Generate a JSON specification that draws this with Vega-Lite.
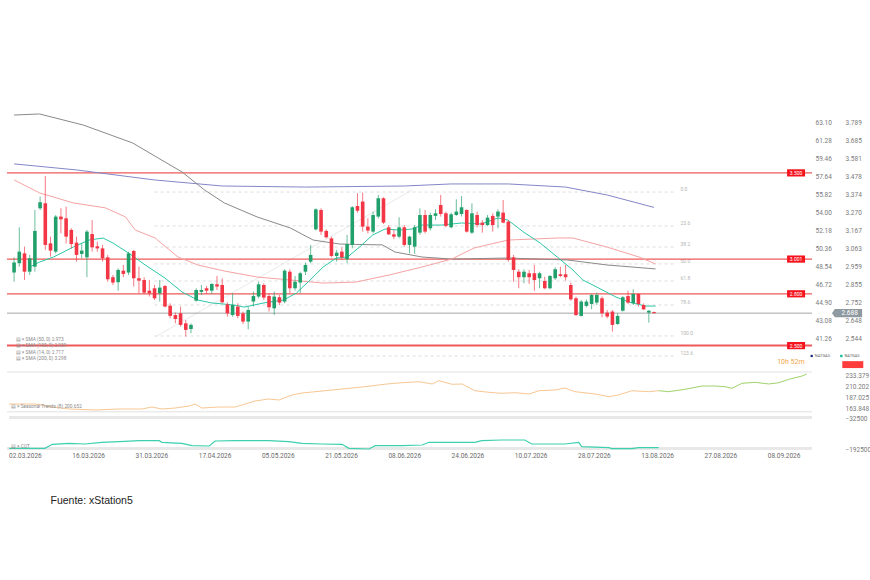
{
  "$schema": "https://vega.github.io/schema/vega-lite/v6.json",
  "background": "white",
  "padding": {"left": 5, "top": 105, "right": 0, "bottom": 0},
  "title": {"text": "Fuente: xStation5", "orient": "bottom", "anchor": "start", "offset": 37, "dx": 45, "fontSize": 10.5, "fontWeight": "normal", "font": "Liberation Sans", "color": "#222222"},
  "datasets": {
    "candles": [
      {"t":0,"o":2.923,"h":3.011,"l":2.870,"c":2.981},
      {"t":1,"o":2.977,"h":3.185,"l":2.957,"c":3.044},
      {"t":2,"o":3.034,"h":3.073,"l":2.880,"c":2.928},
      {"t":3,"o":2.928,"h":3.025,"l":2.909,"c":3.006},
      {"t":4,"o":2.957,"h":3.285,"l":2.928,"c":3.164},
      {"t":5,"o":3.295,"h":3.363,"l":3.285,"c":3.330},
      {"t":6,"o":3.324,"h":3.482,"l":3.054,"c":3.083},
      {"t":7,"o":3.092,"h":3.131,"l":3.015,"c":3.050},
      {"t":8,"o":3.044,"h":3.256,"l":3.034,"c":3.247},
      {"t":9,"o":3.247,"h":3.295,"l":3.150,"c":3.231},
      {"t":10,"o":3.237,"h":3.305,"l":3.092,"c":3.131},
      {"t":11,"o":3.170,"h":3.179,"l":3.063,"c":3.088},
      {"t":12,"o":3.096,"h":3.131,"l":2.986,"c":3.025},
      {"t":13,"o":3.031,"h":3.092,"l":3.006,"c":3.050},
      {"t":14,"o":3.011,"h":3.170,"l":2.896,"c":3.160},
      {"t":15,"o":3.146,"h":3.227,"l":3.044,"c":3.069},
      {"t":16,"o":3.075,"h":3.102,"l":3.044,"c":3.063},
      {"t":17,"o":3.063,"h":3.083,"l":2.986,"c":3.006},
      {"t":18,"o":3.011,"h":3.025,"l":2.870,"c":2.884},
      {"t":19,"o":2.896,"h":2.909,"l":2.851,"c":2.865},
      {"t":20,"o":2.867,"h":2.948,"l":2.818,"c":2.938},
      {"t":21,"o":2.934,"h":2.967,"l":2.896,"c":2.915},
      {"t":22,"o":2.923,"h":3.044,"l":2.909,"c":3.034},
      {"t":23,"o":3.048,"h":3.054,"l":2.842,"c":2.890},
      {"t":24,"o":2.890,"h":2.957,"l":2.803,"c":2.876},
      {"t":25,"o":2.880,"h":2.896,"l":2.799,"c":2.807},
      {"t":26,"o":2.818,"h":2.880,"l":2.784,"c":2.803},
      {"t":27,"o":2.832,"h":2.851,"l":2.764,"c":2.774},
      {"t":28,"o":2.803,"h":2.880,"l":2.755,"c":2.836},
      {"t":29,"o":2.845,"h":2.851,"l":2.722,"c":2.726},
      {"t":30,"o":2.731,"h":2.745,"l":2.658,"c":2.672},
      {"t":31,"o":2.677,"h":2.691,"l":2.629,"c":2.654},
      {"t":32,"o":2.687,"h":2.726,"l":2.610,"c":2.620},
      {"t":33,"o":2.629,"h":2.648,"l":2.552,"c":2.591},
      {"t":34,"o":2.596,"h":2.629,"l":2.571,"c":2.620},
      {"t":35,"o":2.760,"h":2.832,"l":2.755,"c":2.822},
      {"t":36,"o":2.811,"h":2.851,"l":2.793,"c":2.822},
      {"t":37,"o":2.832,"h":2.845,"l":2.799,"c":2.818},
      {"t":38,"o":2.818,"h":2.861,"l":2.799,"c":2.857},
      {"t":39,"o":2.855,"h":2.903,"l":2.822,"c":2.842},
      {"t":40,"o":2.851,"h":2.890,"l":2.745,"c":2.751},
      {"t":41,"o":2.739,"h":2.751,"l":2.668,"c":2.687},
      {"t":42,"o":2.677,"h":2.803,"l":2.668,"c":2.735},
      {"t":43,"o":2.726,"h":2.745,"l":2.658,"c":2.672},
      {"t":44,"o":2.687,"h":2.697,"l":2.625,"c":2.639},
      {"t":45,"o":2.639,"h":2.726,"l":2.594,"c":2.706},
      {"t":46,"o":2.755,"h":2.813,"l":2.726,"c":2.787},
      {"t":47,"o":2.784,"h":2.870,"l":2.774,"c":2.855},
      {"t":48,"o":2.851,"h":2.861,"l":2.764,"c":2.778},
      {"t":49,"o":2.787,"h":2.803,"l":2.697,"c":2.722},
      {"t":50,"o":2.716,"h":2.813,"l":2.677,"c":2.784},
      {"t":51,"o":2.780,"h":2.793,"l":2.735,"c":2.749},
      {"t":52,"o":2.755,"h":2.942,"l":2.745,"c":2.934},
      {"t":53,"o":2.928,"h":2.942,"l":2.803,"c":2.832},
      {"t":54,"o":2.832,"h":2.903,"l":2.818,"c":2.870},
      {"t":55,"o":2.865,"h":2.928,"l":2.803,"c":2.919},
      {"t":56,"o":2.928,"h":2.981,"l":2.909,"c":2.967},
      {"t":57,"o":2.986,"h":3.083,"l":2.977,"c":3.025},
      {"t":58,"o":3.173,"h":3.295,"l":3.166,"c":3.289},
      {"t":59,"o":3.285,"h":3.295,"l":3.141,"c":3.160},
      {"t":60,"o":3.164,"h":3.173,"l":3.121,"c":3.127},
      {"t":61,"o":3.121,"h":3.131,"l":3.011,"c":3.019},
      {"t":62,"o":3.019,"h":3.054,"l":2.986,"c":3.038},
      {"t":63,"o":3.044,"h":3.069,"l":2.996,"c":3.011},
      {"t":64,"o":3.000,"h":3.141,"l":2.977,"c":3.088},
      {"t":65,"o":3.083,"h":3.308,"l":3.063,"c":3.301},
      {"t":66,"o":3.308,"h":3.382,"l":3.270,"c":3.281},
      {"t":67,"o":3.334,"h":3.386,"l":3.160,"c":3.189},
      {"t":68,"o":3.189,"h":3.237,"l":3.150,"c":3.166},
      {"t":69,"o":3.160,"h":3.276,"l":3.150,"c":3.256},
      {"t":70,"o":3.247,"h":3.372,"l":3.237,"c":3.353},
      {"t":71,"o":3.353,"h":3.359,"l":3.204,"c":3.212},
      {"t":72,"o":3.185,"h":3.198,"l":3.141,"c":3.144},
      {"t":73,"o":3.144,"h":3.170,"l":3.116,"c":3.131},
      {"t":74,"o":3.131,"h":3.243,"l":3.121,"c":3.185},
      {"t":75,"o":3.185,"h":3.198,"l":3.073,"c":3.083},
      {"t":76,"o":3.083,"h":3.135,"l":3.034,"c":3.131},
      {"t":77,"o":3.073,"h":3.198,"l":3.031,"c":3.185},
      {"t":78,"o":3.154,"h":3.295,"l":3.141,"c":3.256},
      {"t":79,"o":3.256,"h":3.285,"l":3.150,"c":3.160},
      {"t":80,"o":3.179,"h":3.270,"l":3.166,"c":3.256},
      {"t":81,"o":3.251,"h":3.289,"l":3.227,"c":3.266},
      {"t":82,"o":3.314,"h":3.372,"l":3.247,"c":3.262},
      {"t":83,"o":3.266,"h":3.276,"l":3.185,"c":3.193},
      {"t":84,"o":3.185,"h":3.270,"l":3.179,"c":3.260},
      {"t":85,"o":3.256,"h":3.347,"l":3.251,"c":3.276},
      {"t":86,"o":3.262,"h":3.366,"l":3.247,"c":3.301},
      {"t":87,"o":3.285,"h":3.289,"l":3.154,"c":3.160},
      {"t":88,"o":3.154,"h":3.324,"l":3.146,"c":3.266},
      {"t":89,"o":3.256,"h":3.276,"l":3.185,"c":3.198},
      {"t":90,"o":3.212,"h":3.227,"l":3.154,"c":3.198},
      {"t":91,"o":3.198,"h":3.256,"l":3.193,"c":3.241},
      {"t":92,"o":3.251,"h":3.266,"l":3.160,"c":3.198},
      {"t":93,"o":3.247,"h":3.289,"l":3.179,"c":3.276},
      {"t":94,"o":3.270,"h":3.343,"l":3.208,"c":3.212},
      {"t":95,"o":3.218,"h":3.227,"l":2.986,"c":2.996},
      {"t":96,"o":3.011,"h":3.025,"l":2.870,"c":2.938},
      {"t":97,"o":2.928,"h":2.942,"l":2.832,"c":2.896},
      {"t":98,"o":2.896,"h":2.942,"l":2.861,"c":2.928},
      {"t":99,"o":2.919,"h":2.938,"l":2.857,"c":2.896},
      {"t":100,"o":2.919,"h":2.967,"l":2.818,"c":2.880},
      {"t":101,"o":2.890,"h":2.928,"l":2.832,"c":2.919},
      {"t":102,"o":2.874,"h":2.899,"l":2.826,"c":2.832},
      {"t":103,"o":2.832,"h":2.909,"l":2.826,"c":2.903},
      {"t":104,"o":2.890,"h":2.953,"l":2.880,"c":2.942},
      {"t":105,"o":2.913,"h":2.957,"l":2.896,"c":2.903},
      {"t":106,"o":2.913,"h":2.967,"l":2.876,"c":2.896},
      {"t":107,"o":2.851,"h":2.865,"l":2.760,"c":2.768},
      {"t":108,"o":2.774,"h":2.784,"l":2.672,"c":2.677},
      {"t":109,"o":2.672,"h":2.764,"l":2.668,"c":2.755},
      {"t":110,"o":2.730,"h":2.768,"l":2.722,"c":2.755},
      {"t":111,"o":2.741,"h":2.799,"l":2.710,"c":2.793},
      {"t":112,"o":2.749,"h":2.807,"l":2.735,"c":2.793},
      {"t":113,"o":2.774,"h":2.784,"l":2.664,"c":2.687},
      {"t":114,"o":2.691,"h":2.706,"l":2.658,"c":2.668},
      {"t":115,"o":2.697,"h":2.706,"l":2.581,"c":2.620},
      {"t":116,"o":2.625,"h":2.687,"l":2.620,"c":2.672},
      {"t":117,"o":2.702,"h":2.787,"l":2.697,"c":2.780},
      {"t":118,"o":2.787,"h":2.818,"l":2.741,"c":2.749},
      {"t":119,"o":2.745,"h":2.826,"l":2.735,"c":2.799},
      {"t":120,"o":2.799,"h":2.803,"l":2.726,"c":2.741},
      {"t":121,"o":2.735,"h":2.745,"l":2.706,"c":2.710},
      {"t":122,"o":2.691,"h":2.706,"l":2.633,"c":2.702},
      {"t":123,"o":2.694,"h":2.697,"l":2.686,"c":2.688}
    ],
    "sma": [
      {"s":"s200","t":0,"v":3.552},{"s":"s200","t":12,"v":3.517},{"s":"s200","t":27,"v":3.459},{"s":"s200","t":40,"v":3.424},{"s":"s200","t":56,"v":3.418},{"s":"s200","t":75,"v":3.424},{"s":"s200","t":84,"v":3.436},{"s":"s200","t":95,"v":3.436},{"s":"s200","t":106,"v":3.418},{"s":"s200","t":114,"v":3.372},{"s":"s200","t":123,"v":3.300},
      {"s":"s100","t":0,"v":3.835},{"s":"s100","t":4.9,"v":3.841},{"s":"s100","t":13.3,"v":3.777},{"s":"s100","t":22.8,"v":3.673},{"s":"s100","t":27.7,"v":3.586},{"s":"s100","t":32.3,"v":3.505},{"s":"s100","t":36.6,"v":3.401},{"s":"s100","t":40.4,"v":3.326},{"s":"s100","t":46.7,"v":3.245},{"s":"s100","t":53.1,"v":3.181},{"s":"s100","t":57.5,"v":3.111},{"s":"s100","t":62.6,"v":3.088},{"s":"s100","t":70.8,"v":3.083},{"s":"s100","t":73.2,"v":3.042},{"s":"s100","t":78.4,"v":3.013},{"s":"s100","t":84.1,"v":3.001},{"s":"s100","t":94.9,"v":3.007},{"s":"s100","t":106.3,"v":2.996},{"s":"s100","t":113.9,"v":2.967},{"s":"s100","t":123.3,"v":2.944},
      {"s":"s50","t":0,"v":3.459},{"s":"s50","t":4.9,"v":3.384},{"s":"s50","t":11.4,"v":3.326},{"s":"s50","t":17.6,"v":3.297},{"s":"s50","t":21.4,"v":3.245},{"s":"s50","t":23.3,"v":3.169},{"s":"s50","t":27.1,"v":3.123},{"s":"s50","t":31.5,"v":3.013},{"s":"s50","t":35.3,"v":2.967},{"s":"s50","t":40.4,"v":2.932},{"s":"s50","t":46.7,"v":2.897},{"s":"s50","t":53.1,"v":2.880},{"s":"s50","t":59.4,"v":2.862},{"s":"s50","t":65.7,"v":2.868},{"s":"s50","t":72.1,"v":2.909},{"s":"s50","t":78.4,"v":2.955},{"s":"s50","t":84.1,"v":3.001},{"s":"s50","t":88.4,"v":3.065},{"s":"s50","t":94.9,"v":3.111},{"s":"s50","t":104.4,"v":3.123},{"s":"s50","t":107.4,"v":3.123},{"s":"s50","t":113.9,"v":3.071},{"s":"s50","t":120.1,"v":3.013},{"s":"s50","t":123.3,"v":2.973},
      {"s":"s14","t":3,"v":2.955},{"s":"s14","t":4.9,"v":2.984},{"s":"s14","t":7.6,"v":3.013},{"s":"s14","t":11.4,"v":3.071},{"s":"s14","t":14.4,"v":3.111},{"s":"s14","t":17.1,"v":3.123},{"s":"s14","t":19,"v":3.094},{"s":"s14","t":22,"v":3.036},{"s":"s14","t":25.2,"v":2.967},{"s":"s14","t":29,"v":2.891},{"s":"s14","t":32.3,"v":2.810},{"s":"s14","t":35.3,"v":2.764},{"s":"s14","t":38,"v":2.747},{"s":"s14","t":42.3,"v":2.735},{"s":"s14","t":44.2,"v":2.723},{"s":"s14","t":48,"v":2.747},{"s":"s14","t":51.8,"v":2.764},{"s":"s14","t":54.3,"v":2.805},{"s":"s14","t":56.9,"v":2.880},{"s":"s14","t":59.4,"v":2.955},{"s":"s14","t":61.9,"v":3.007},{"s":"s14","t":64.1,"v":3.013},{"s":"s14","t":66.4,"v":3.071},{"s":"s14","t":68.9,"v":3.140},{"s":"s14","t":71.3,"v":3.175},{"s":"s14","t":74,"v":3.169},{"s":"s14","t":76.5,"v":3.175},{"s":"s14","t":78.4,"v":3.198},{"s":"s14","t":82.2,"v":3.198},{"s":"s14","t":86,"v":3.210},{"s":"s14","t":89.8,"v":3.204},{"s":"s14","t":93,"v":3.239},{"s":"s14","t":94.9,"v":3.227},{"s":"s14","t":97.9,"v":3.158},{"s":"s14","t":101.1,"v":3.094},{"s":"s14","t":104.4,"v":3.013},{"s":"s14","t":107.4,"v":2.938},{"s":"s14","t":109.3,"v":2.880},{"s":"s14","t":112,"v":2.839},{"s":"s14","t":115.7,"v":2.781},{"s":"s14","t":118.2,"v":2.752},{"s":"s14","t":121.4,"v":2.729},{"s":"s14","t":123.3,"v":2.729}
    ],
    "fib": [
      {"lvl":"0.0","p":3.389},{"lvl":"23.6","p":3.193},{"lvl":"38.2","p":3.071},{"lvl":"50.0","p":2.973},
      {"lvl":"61.8","p":2.874},{"lvl":"78.6","p":2.735},{"lvl":"100.0","p":2.556},{"lvl":"123.6","p":2.440}
    ],
    "trend": [{"t":27.1,"p":2.550},{"t":76.5,"p":3.401}],
    "levels": [{"p":3.5,"lab":"3.500"},{"p":3.001,"lab":"3.001"},{"p":2.8,"lab":"2.800"},{"p":2.5,"lab":"2.500"}],
    "seasonal": [
      {"seg":"hist","t":0,"v":172.5},{"seg":"hist","t":4.9,"v":172.5},{"seg":"hist","t":8.2,"v":166.0},{"seg":"hist","t":11.4,"v":161.7},{"seg":"hist","t":16.3,"v":159.5},{"seg":"hist","t":20.9,"v":161.7},{"seg":"hist","t":25.2,"v":161.7},{"seg":"hist","t":27.1,"v":166.0},{"seg":"hist","t":29,"v":161.7},{"seg":"hist","t":31.5,"v":163.8},{"seg":"hist","t":34.2,"v":168.2},{"seg":"hist","t":35.3,"v":172.5},{"seg":"hist","t":36.6,"v":163.8},{"seg":"hist","t":39.8,"v":166.0},{"seg":"hist","t":42.9,"v":166.0},{"seg":"hist","t":44.8,"v":172.5},{"seg":"hist","t":46.7,"v":179.1},{"seg":"hist","t":49.3,"v":183.4},{"seg":"hist","t":51.2,"v":181.2},{"seg":"hist","t":53.7,"v":192.1},{"seg":"hist","t":55.6,"v":196.4},{"seg":"hist","t":61.3,"v":202.9},{"seg":"hist","t":67,"v":209.5},{"seg":"hist","t":71.7,"v":216.0},{"seg":"hist","t":74.6,"v":218.8},{"seg":"hist","t":77.8,"v":221.0},{"seg":"hist","t":80.3,"v":216.0},{"seg":"hist","t":81.6,"v":223.1},{"seg":"hist","t":84.1,"v":215.3},{"seg":"hist","t":86,"v":216.0},{"seg":"hist","t":88.4,"v":201.4},{"seg":"hist","t":91.1,"v":197.9},{"seg":"hist","t":93.5,"v":195.8},{"seg":"hist","t":96,"v":197.1},{"seg":"hist","t":98.7,"v":194.3},{"seg":"hist","t":100.6,"v":201.4},{"seg":"hist","t":103.6,"v":202.9},{"seg":"hist","t":105.5,"v":207.3},{"seg":"hist","t":107.4,"v":199.3},{"seg":"hist","t":111.2,"v":194.3},{"seg":"hist","t":113.9,"v":188.4},{"seg":"hist","t":115.7,"v":192.1},{"seg":"hist","t":118.2,"v":201.4},{"seg":"hist","t":121.4,"v":199.3},{"seg":"hist","t":123.3,"v":201.4},
      {"seg":"fut","t":123.3,"v":201.4},{"seg":"fut","t":125.2,"v":199.3},{"seg":"fut","t":128.3,"v":204.5},{"seg":"fut","t":131.5,"v":211.6},{"seg":"fut","t":134,"v":211.6},{"seg":"fut","t":135.9,"v":210.1},{"seg":"fut","t":137.2,"v":206.6},{"seg":"fut","t":139.1,"v":217.5},{"seg":"fut","t":141.6,"v":219.7},{"seg":"fut","t":144.2,"v":216.0},{"seg":"fut","t":146.1,"v":218.8},{"seg":"fut","t":148,"v":226.2},{"seg":"fut","t":150.5,"v":233.3},{"seg":"fut","t":151.4,"v":237.7}
    ],
    "cot": [
      {"t":0,"v":-188900},{"t":6.8,"v":-188900},{"t":8.2,"v":-168200},{"t":11.4,"v":-163100},{"t":14.4,"v":-166700},{"t":17.6,"v":-157900},{"t":20.9,"v":-154800},{"t":24.7,"v":-149700},{"t":28.5,"v":-149700},{"t":29,"v":-157900},{"t":32.8,"v":-163100},{"t":34.7,"v":-175500},{"t":38,"v":-177000},{"t":39.1,"v":-151200},{"t":42.9,"v":-149700},{"t":49.3,"v":-149700},{"t":53.1,"v":-154800},{"t":55.6,"v":-163100},{"t":59.4,"v":-166700},{"t":63.2,"v":-168200},{"t":64.5,"v":-188900},{"t":68.3,"v":-192500},{"t":69.5,"v":-175500},{"t":74.6,"v":-175500},{"t":78.4,"v":-171800},{"t":79.7,"v":-157900},{"t":88.4,"v":-157900},{"t":89.7,"v":-149700},{"t":93.5,"v":-146000},{"t":97.9,"v":-146000},{"t":99.2,"v":-166700},{"t":105.5,"v":-166700},{"t":108.1,"v":-157900},{"t":108.7,"v":-180600},{"t":113.9,"v":-185800},{"t":114.4,"v":-190900},{"t":118.2,"v":-190900},{"t":119.5,"v":-185800},{"t":123.3,"v":-185800}
    ]
  },
  "spacing": 4,
  "bounds": "flush",
  "resolve": {"scale": {"x": "independent", "y": "independent", "color": "independent"}},
  "vconcat": [
    {
      "width": 805,
      "height": 261,
      "layer": [
        {
          "layer": [
            {
              "data": {"name": "fib"},
              "mark": {"type": "rule", "color": "#d4d4d4", "strokeDash": [3, 3], "strokeWidth": 0.8},
              "encoding": {
                "x": {"datum": 27, "type": "quantitative", "scale": {"domain": [-0.4, 152.4], "nice": false, "zero": false}, "axis": null},
                "x2": {"datum": 127},
                "y": {"field": "p", "type": "quantitative", "axis": null, "scale": {"domain": [2.382, 3.893], "nice": false, "zero": false}}
              }
            },
            {
              "data": {"name": "fib"},
              "mark": {"type": "text", "align": "left", "dx": 2, "dy": -3, "fontSize": 5, "color": "#b5b5b5"},
              "encoding": {
                "x": {"datum": 127.7, "type": "quantitative", "scale": {"domain": [-0.4, 152.4], "nice": false, "zero": false}, "axis": null},
                "y": {"field": "p", "type": "quantitative", "axis": null, "scale": {"domain": [2.382, 3.893], "nice": false, "zero": false}},
                "text": {"field": "lvl"}
              }
            },
            {
              "data": {"name": "trend"},
              "mark": {"type": "line", "color": "#e3e3e3", "strokeWidth": 0.8},
              "encoding": {
                "x": {"field": "t", "type": "quantitative", "scale": {"domain": [-0.4, 152.4], "nice": false, "zero": false}, "axis": null},
                "y": {"field": "p", "type": "quantitative", "axis": null, "scale": {"domain": [2.382, 3.893], "nice": false, "zero": false}}
              }
            },
            {
              "data": {"name": "levels"},
              "mark": {"type": "rule", "color": "#ee5a5a"},
              "encoding": {
                "y": {"field": "p", "type": "quantitative", "axis": null, "scale": {"domain": [2.382, 3.893], "nice": false, "zero": false}},
                "strokeWidth": {"condition": {"test": "datum.p == 2.5", "value": 2}, "value": 1.2}
              }
            },
            {
              "data": {"values": [{}]},
              "mark": {"type": "rule", "color": "#a6a6a6", "strokeWidth": 1},
              "encoding": {
                "y": {"datum": 2.688, "type": "quantitative", "axis": null, "scale": {"domain": [2.382, 3.893], "nice": false, "zero": false}}
              }
            },
            {
              "data": {"name": "sma"},
              "mark": {"type": "line", "strokeWidth": 1},
              "encoding": {
                "x": {"field": "t", "type": "quantitative", "scale": {"domain": [-0.4, 152.4], "nice": false, "zero": false}, "axis": null},
                "y": {"field": "v", "type": "quantitative", "axis": null, "scale": {"domain": [2.382, 3.893], "nice": false, "zero": false}},
                "color": {"field": "s", "type": "nominal", "legend": null, "scale": {"domain": ["s14", "s50", "s100", "s200"], "range": ["#2cc7a6", "#f5a3a3", "#8a8a8a", "#8487c8"]}}
              }
            },
            {
              "data": {"name": "candles"},
              "mark": {"type": "rule", "strokeWidth": 0.9, "opacity": 0.75},
              "encoding": {
                "x": {"field": "t", "type": "quantitative", "scale": {"domain": [-0.4, 152.4], "nice": false, "zero": false}, "axis": null},
                "y": {"field": "l", "type": "quantitative", "axis": null, "scale": {"domain": [2.382, 3.893], "nice": false, "zero": false}},
                "y2": {"field": "h"},
                "color": {"condition": {"test": "datum.c >= datum.o", "value": "#22a06b"}, "value": "#f23645"}
              }
            },
            {
              "data": {"name": "candles"},
              "mark": {"type": "bar", "width": 3.6},
              "encoding": {
                "x": {"field": "t", "type": "quantitative", "scale": {"domain": [-0.4, 152.4], "nice": false, "zero": false}, "axis": null},
                "y": {"field": "o", "type": "quantitative", "axis": null, "scale": {"domain": [2.382, 3.893], "nice": false, "zero": false}},
                "y2": {"field": "c"},
                "color": {"condition": {"test": "datum.c >= datum.o", "value": "#22a06b"}, "value": "#f23645"}
              }
            },
            {
              "data": {"name": "levels"},
              "mark": {"type": "point", "shape": "M-1,-0.4H1V0.4H-1Z", "filled": true, "size": 324, "color": "#f5141e", "opacity": 1},
              "encoding": {
                "x": {"datum": 150.3, "type": "quantitative", "scale": {"domain": [-0.4, 152.4], "nice": false, "zero": false}, "axis": null},
                "y": {"field": "p", "type": "quantitative", "axis": null, "scale": {"domain": [2.382, 3.893], "nice": false, "zero": false}}
              }
            },
            {
              "data": {"name": "levels"},
              "mark": {"type": "text", "color": "white", "fontSize": 5, "align": "center", "baseline": "middle"},
              "encoding": {
                "x": {"datum": 150.3, "type": "quantitative", "scale": {"domain": [-0.4, 152.4], "nice": false, "zero": false}, "axis": null},
                "y": {"field": "p", "type": "quantitative", "axis": null, "scale": {"domain": [2.382, 3.893], "nice": false, "zero": false}},
                "text": {"field": "lab"}
              }
            },
            {
              "data": {"values": [{}]},
              "mark": {"type": "point", "shape": "M-1.15,0L-0.95,-0.3H1V0.3H-0.95Z", "filled": true, "size": 784, "color": "#8e9aa0", "opacity": 1},
              "encoding": {
                "x": {"datum": 160.3, "type": "quantitative", "scale": {"domain": [-0.4, 152.4], "nice": false, "zero": false}, "axis": null},
                "y": {"datum": 2.688, "type": "quantitative", "axis": null, "scale": {"domain": [2.382, 3.893], "nice": false, "zero": false}}
              }
            },
            {
              "data": {"values": [{}]},
              "mark": {"type": "text", "color": "white", "fontSize": 6.5, "align": "center", "baseline": "middle", "text": "2.688"},
              "encoding": {
                "x": {"datum": 160.6, "type": "quantitative", "scale": {"domain": [-0.4, 152.4], "nice": false, "zero": false}, "axis": null},
                "y": {"datum": 2.688, "type": "quantitative", "axis": null, "scale": {"domain": [2.382, 3.893], "nice": false, "zero": false}}
              }
            },
            {
              "data": {"values": [{}]},
              "mark": {"type": "text", "align": "left", "baseline": "top", "fontSize": 4.8, "lineHeight": 6.5, "lineBreak": "\n", "color": "#8a8a8a",
                "text": "▤ × SMA (50, 0) 2.973\n▤ × SMA (100, 0) 2.939\n▤ × SMA (14, 0) 2.717\n▤ × SMA (200, 0) 3.298"},
              "encoding": {
                "x": {"datum": 0.3, "type": "quantitative", "scale": {"domain": [-0.4, 152.4], "nice": false, "zero": false}, "axis": null},
                "y": {"datum": 2.55, "type": "quantitative", "axis": null, "scale": {"domain": [2.382, 3.893], "nice": false, "zero": false}}
              }
            },
            {
              "data": {"values": [{}]},
              "mark": {"type": "text", "align": "center", "baseline": "middle", "fontSize": 7, "color": "#f3a446", "text": "10h 52m"},
              "encoding": {
                "x": {"datum": 149.3, "type": "quantitative", "scale": {"domain": [-0.4, 152.4], "nice": false, "zero": false}, "axis": null},
                "y": {"datum": 2.405, "type": "quantitative", "axis": null, "scale": {"domain": [2.382, 3.893], "nice": false, "zero": false}}
              }
            },
            {
              "data": {"values": [{}]},
              "mark": {"type": "point", "shape": "square", "filled": true, "size": 5, "color": "#1a237e", "opacity": 1},
              "encoding": {
                "x": {"datum": 153.3, "type": "quantitative", "scale": {"domain": [-0.4, 152.4], "nice": false, "zero": false}, "axis": null},
                "y": {"datum": 2.44, "type": "quantitative", "axis": null, "scale": {"domain": [2.382, 3.893], "nice": false, "zero": false}}
              }
            },
            {
              "data": {"values": [{}]},
              "mark": {"type": "text", "align": "left", "baseline": "middle", "fontSize": 4, "color": "#666666", "text": "NATGAS."},
              "encoding": {
                "x": {"datum": 153.9, "type": "quantitative", "scale": {"domain": [-0.4, 152.4], "nice": false, "zero": false}, "axis": null},
                "y": {"datum": 2.44, "type": "quantitative", "axis": null, "scale": {"domain": [2.382, 3.893], "nice": false, "zero": false}}
              }
            },
            {
              "data": {"values": [{}]},
              "mark": {"type": "point", "shape": "square", "filled": true, "size": 6, "color": "#1bbf9a", "opacity": 1},
              "encoding": {
                "x": {"datum": 159, "type": "quantitative", "scale": {"domain": [-0.4, 152.4], "nice": false, "zero": false}, "axis": null},
                "y": {"datum": 2.44, "type": "quantitative", "axis": null, "scale": {"domain": [2.382, 3.893], "nice": false, "zero": false}}
              }
            },
            {
              "data": {"values": [{}]},
              "mark": {"type": "text", "align": "left", "baseline": "middle", "fontSize": 4, "color": "#666666", "text": "NATGAS"},
              "encoding": {
                "x": {"datum": 159.6, "type": "quantitative", "scale": {"domain": [-0.4, 152.4], "nice": false, "zero": false}, "axis": null},
                "y": {"datum": 2.44, "type": "quantitative", "axis": null, "scale": {"domain": [2.382, 3.893], "nice": false, "zero": false}}
              }
            },
            {
              "data": {"values": [{}]},
              "mark": {"type": "point", "shape": "M-1,-0.33H1V0.33H-1Z", "filled": true, "size": 441, "color": "#ff3b3b", "opacity": 1},
              "encoding": {
                "x": {"datum": 161.2, "type": "quantitative", "scale": {"domain": [-0.4, 152.4], "nice": false, "zero": false}, "axis": null},
                "y": {"datum": 2.39, "type": "quantitative", "axis": null, "scale": {"domain": [2.382, 3.893], "nice": false, "zero": false}}
              }
            }
          ]
        },
        {
          "data": {"values": [{}]},
          "mark": {"type": "rule", "opacity": 0},
          "encoding": {
            "y": {"datum": 3, "type": "quantitative", "title": null, "scale": {"domain": [2.382, 3.893], "nice": false, "zero": false},
              "axis": {"orient": "right", "offset": 30, "labelPadding": 3, "labelOverlap": false, "values": [2.544, 2.648, 2.752, 2.855, 2.959, 3.063, 3.167, 3.27, 3.374, 3.478, 3.581, 3.685, 3.789], "format": ".3f", "title": null}}
          }
        },
        {
          "data": {"values": [{}]},
          "mark": {"type": "rule", "opacity": 0},
          "encoding": {
            "y": {"datum": 50, "type": "quantitative", "title": null, "scale": {"domain": [38.42, 64.92], "nice": false, "zero": false},
              "axis": {"orient": "right", "offset": 0, "labelPadding": 3, "labelOverlap": false, "values": [41.26, 43.08, 44.9, 46.72, 48.54, 50.36, 52.18, 54, 55.82, 57.64, 59.46, 61.28, 63.1], "format": ".2f", "title": null}}
          }
        }
      ],
      "resolve": {"scale": {"y": "independent"}}
    },
    {
      "width": 805,
      "height": 42,
      "layer": [
        {
          "layer": [
            {
              "data": {"values": [{}]},
              "mark": {"type": "rule", "color": "#e2e2e2", "strokeWidth": 1},
              "encoding": {
                "y": {"datum": 242.07, "type": "quantitative", "axis": null, "scale": {"domain": [155.16, 246.41], "nice": false, "zero": false}}
              }
            },
            {
              "data": {"values": [{}]},
              "mark": {"type": "rule", "color": "#e2e2e2", "strokeWidth": 1},
              "encoding": {
                "y": {"datum": 155.6, "type": "quantitative", "axis": null, "scale": {"domain": [155.16, 246.41], "nice": false, "zero": false}}
              }
            },
            {
              "data": {"name": "seasonal"},
              "mark": {"type": "line", "strokeWidth": 1},
              "encoding": {
                "x": {"field": "t", "type": "quantitative", "scale": {"domain": [-0.4, 152.4], "nice": false, "zero": false}, "axis": null},
                "y": {"field": "v", "type": "quantitative", "axis": null, "scale": {"domain": [155.16, 246.41], "nice": false, "zero": false}},
                "color": {"field": "seg", "type": "nominal", "legend": null, "scale": {"domain": ["hist", "fut"], "range": ["#f8c794", "#9fd36b"]}}
              }
            },
            {
              "data": {"values": [{}]},
              "mark": {"type": "text", "align": "left", "baseline": "middle", "fontSize": 4.8, "color": "#8a8a8a", "text": "▤ × Seasonal Trends (8) 200.652"},
              "encoding": {
                "x": {"datum": 0.3, "type": "quantitative", "scale": {"domain": [-0.4, 152.4], "nice": false, "zero": false}, "axis": null},
                "y": {"datum": 166, "type": "quantitative", "axis": null, "scale": {"domain": [155.16, 246.41], "nice": false, "zero": false}}
              }
            }
          ]
        },
        {
          "data": {"values": [{}]},
          "mark": {"type": "rule", "opacity": 0},
          "encoding": {
            "y": {"datum": 200, "type": "quantitative", "title": null, "scale": {"domain": [155.16, 246.41], "nice": false, "zero": false},
              "axis": {"orient": "right", "offset": 30, "labelPadding": 3, "labelOverlap": false, "values": [163.848, 187.025, 210.202, 233.379], "format": ".3f", "title": null}}
          }
        }
      ],
      "resolve": {"scale": {"y": "independent"}}
    },
    {
      "width": 805,
      "height": 34,
      "layer": [
        {
          "data": {"values": [{}]},
          "mark": {"type": "rule", "color": "#e8e8e8", "strokeWidth": 3},
          "encoding": {
            "x": {"datum": 0, "type": "quantitative", "scale": {"domain": [-0.4, 152.4], "nice": false, "zero": false},
              "axis": {"orient": "bottom", "values": [3, 15, 27, 39, 51, 63, 75, 87, 99, 111, 123, 135, 147], "labelPadding": 2, "labelFlush": false, "labelOverlap": false, "labelColor": "#6a6a6a", "title": null,
                "labelExpr": "['02.03.2026','16.03.2026','31.03.2026','17.04.2026','05.05.2026','21.05.2026','08.06.2026','24.06.2026','10.07.2026','28.07.2026','13.08.2026','27.08.2026','08.09.2026'][round((datum.value - 3) / 12)]"}},
            "x2": {"datum": 152.4},
            "y": {"datum": -29920, "type": "quantitative", "title": null, "scale": {"domain": [-197652, -22178], "nice": false, "zero": false},
              "axis": {"orient": "right", "offset": 30, "labelPadding": 3, "labelOverlap": false, "values": [-32500, -192500], "format": "d", "title": null}}
          }
        },
        {
          "data": {"values": [{}]},
          "mark": {"type": "rule", "color": "#e8e8e8", "strokeWidth": 3},
          "encoding": {
            "x": {"datum": -0.4, "type": "quantitative", "scale": {"domain": [-0.4, 152.4], "nice": false, "zero": false}},
            "x2": {"datum": 152.4},
            "y": {"datum": -189910, "type": "quantitative", "title": null, "scale": {"domain": [-197652, -22178], "nice": false, "zero": false}}
          }
        },
        {
          "data": {"name": "cot"},
          "mark": {"type": "line", "strokeWidth": 1.2, "color": "#3cd0ae"},
          "encoding": {
            "x": {"field": "t", "type": "quantitative", "scale": {"domain": [-0.4, 152.4], "nice": false, "zero": false}},
            "y": {"field": "v", "type": "quantitative", "title": null, "scale": {"domain": [-197652, -22178], "nice": false, "zero": false}}
          }
        },
        {
          "data": {"values": [{}]},
          "mark": {"type": "text", "align": "left", "baseline": "middle", "fontSize": 4.8, "color": "#8a8a8a", "text": "▤ × COT"},
          "encoding": {
            "x": {"datum": 0.3, "type": "quantitative", "scale": {"domain": [-0.4, 152.4], "nice": false, "zero": false}},
            "y": {"datum": -182169, "type": "quantitative", "title": null, "scale": {"domain": [-197652, -22178], "nice": false, "zero": false}}
          }
        }
      ]
    }
  ],
  "config": {
    "view": {"stroke": null},
    "axis": {"grid": false, "domain": false, "ticks": false, "labelOverlap": false, "labelFont": "Roboto", "labelColor": "#7a7a7a", "labelFontSize": 6.5},
    "text": {"font": "Roboto"}
  }
}
